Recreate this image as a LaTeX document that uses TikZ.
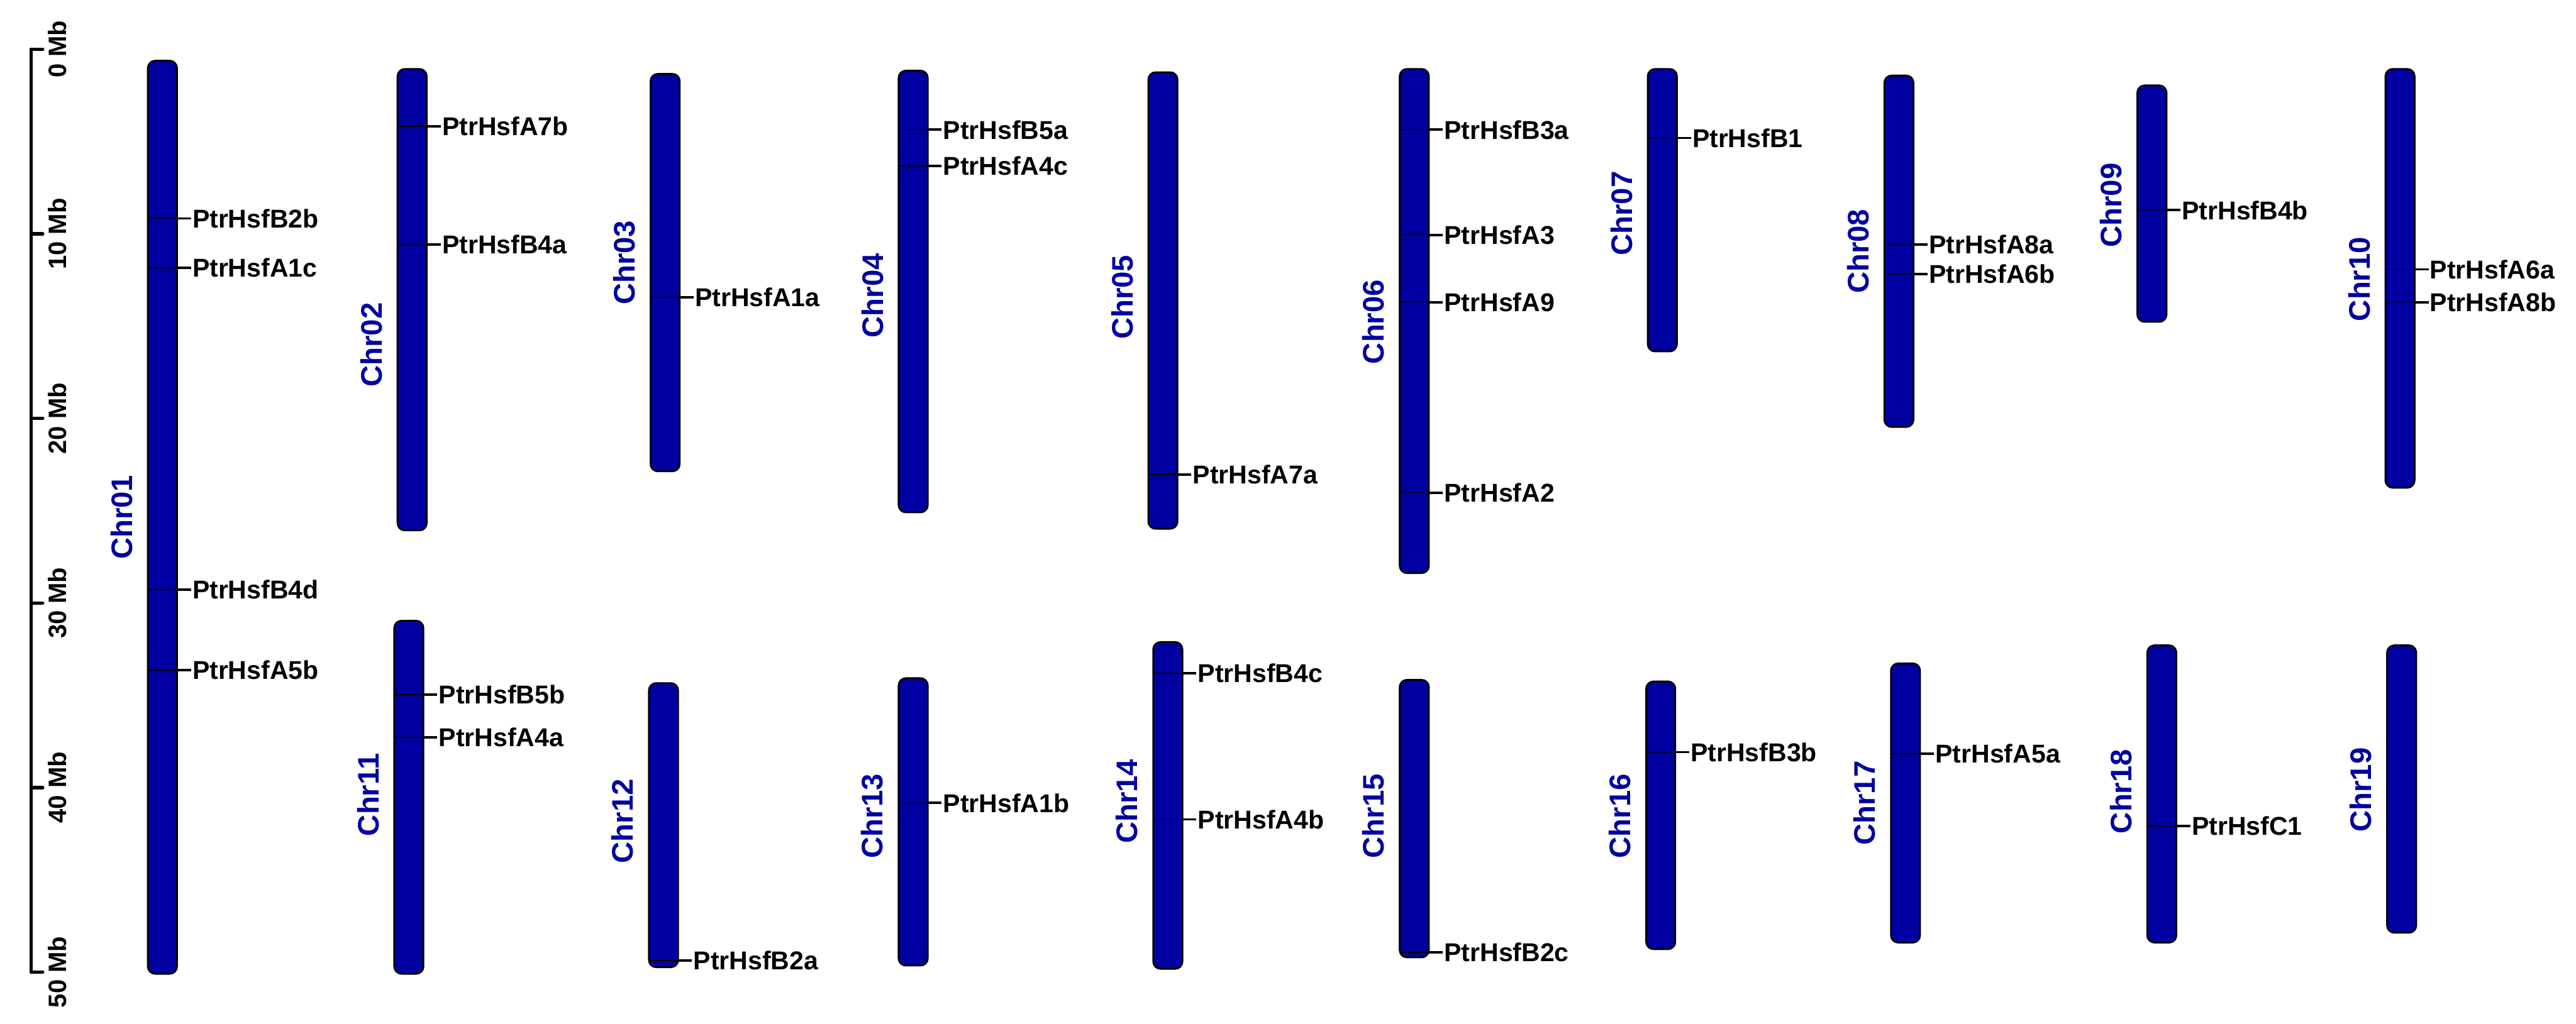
\documentclass[tikz,border=0pt]{standalone}
\usepackage{fontspec}
\setmainfont{Liberation Sans}
\definecolor{chrblue}{RGB}{0,0,160}
\tikzset{
  chrbar/.style={rectangle, draw=black, line width=0.6pt, fill=chrblue, rounded corners=2.4pt,
    minimum width=9.6pt, inner sep=0pt, outer sep=0pt},
  chrlab/.style={rotate=90, text=chrblue, font=\fontsize{9.8}{11}\selectfont\bfseries, inner sep=0pt},
  genelab/.style={anchor=west, font=\fontsize{8.5}{10}\selectfont\bfseries, inner xsep=0.3pt, inner ysep=0pt},
  hair/.style={line width=0.3pt, black},
  genetick/.style={line width=0.8pt, black},
  axisline/.style={line width=1.1pt, black, line cap=round, line join=round},
  axlab/.style={rotate=90, font=\fontsize{8.3}{10}\selectfont\bfseries, inner sep=0pt}
}
\newcommand\chrm[6]{%
  \node[chrbar, minimum height={(#4-#3)*0.5415pt}, anchor=north west] (#1) at (#2,#3) {};
  \node[chrlab] (#1l) at (#2-16,#6) {#5};
}
\newcommand\genemark[4]{%
  \coordinate (#2t) at (#1.east |- 0,#3);
  \node[genelab] (#2) at ([xshift=4.6pt]#2t) {#4};
  \draw[hair] (#1.west |- #2t) -- (#2t);
  \draw[genetick] (#2t) -- (#2.west);
}
\begin{document}
\begin{tikzpicture}[x=0.5415pt, y=-0.5415pt]
\useasboundingbox (0,0) rectangle (1568,623.5);
% axis
\draw[axisline] (19,30) -- (19,592);
\foreach \k/\t in {0/0,1/10,2/20,3/30,4/40,5/50}{
  \draw[axisline] (19,30+112.4*\k) -- (26,30+112.4*\k);
  \node[axlab] (ax\k) at (35,30+112.4*\k) {\t{} Mb};
}
% row 1
\chrm{c01}{90}{37}{593}{Chr01}{315}
\chrm{c02}{242}{42}{323}{Chr02}{210}
\chrm{c03}{396}{45}{287}{Chr03}{160}
\chrm{c04}{547}{43}{312}{Chr04}{180}
\chrm{c05}{699}{44}{322}{Chr05}{181}
\chrm{c06}{852}{42}{349}{Chr06}{196}
\chrm{c07}{1003}{42}{214}{Chr07}{130}
\chrm{c08}{1147}{46}{260}{Chr08}{153}
\chrm{c09}{1301}{52}{196}{Chr09}{125}
\chrm{c10}{1452}{42}{297}{Chr10}{170}
% row 2
\chrm{c11}{240}{378}{593}{Chr11}{484}
\chrm{c12}{395}{416}{589}{Chr12}{500}
\chrm{c13}{547}{413}{588}{Chr13}{497}
\chrm{c14}{702}{391}{590}{Chr14}{488}
\chrm{c15}{852}{414}{583}{Chr15}{497}
\chrm{c16}{1002}{415}{578}{Chr16}{497}
\chrm{c17}{1151}{404}{574}{Chr17}{489}
\chrm{c18}{1307}{393}{574}{Chr18}{482}
\chrm{c19}{1453}{393}{568}{Chr19}{481}
% genes
\genemark{c01}{gB2b}{133}{PtrHsfB2b}
\genemark{c01}{gA1c}{163}{PtrHsfA1c}
\genemark{c01}{gB4d}{359}{PtrHsfB4d}
\genemark{c01}{gA5b}{408}{PtrHsfA5b}
\genemark{c02}{gA7b}{77}{PtrHsfA7b}
\genemark{c02}{gB4a}{149}{PtrHsfB4a}
\genemark{c03}{gA1a}{181}{PtrHsfA1a}
\genemark{c04}{gB5a}{79}{PtrHsfB5a}
\genemark{c04}{gA4c}{101}{PtrHsfA4c}
\genemark{c05}{gA7a}{289}{PtrHsfA7a}
\genemark{c06}{gB3a}{79}{PtrHsfB3a}
\genemark{c06}{gA3}{143}{PtrHsfA3}
\genemark{c06}{gA9}{184}{PtrHsfA9}
\genemark{c06}{gA2}{300}{PtrHsfA2}
\genemark{c07}{gB1}{84}{PtrHsfB1}
\genemark{c08}{gA8a}{149}{PtrHsfA8a}
\genemark{c08}{gA6b}{167}{PtrHsfA6b}
\genemark{c09}{gB4b}{128}{PtrHsfB4b}
\genemark{c10}{gA6a}{164}{PtrHsfA6a}
\genemark{c10}{gA8b}{184}{PtrHsfA8b}
\genemark{c11}{gB5b}{423}{PtrHsfB5b}
\genemark{c11}{gA4a}{449}{PtrHsfA4a}
\genemark{c12}{gB2a}{585}{PtrHsfB2a}
\genemark{c13}{gA1b}{489}{PtrHsfA1b}
\genemark{c14}{gB4c}{410}{PtrHsfB4c}
\genemark{c14}{gA4b}{499}{PtrHsfA4b}
\genemark{c15}{gB2c}{580}{PtrHsfB2c}
\genemark{c16}{gB3b}{458}{PtrHsfB3b}
\genemark{c17}{gA5a}{459}{PtrHsfA5a}
\genemark{c18}{gC1}{503}{PtrHsfC1}
\end{tikzpicture}
\end{document}
